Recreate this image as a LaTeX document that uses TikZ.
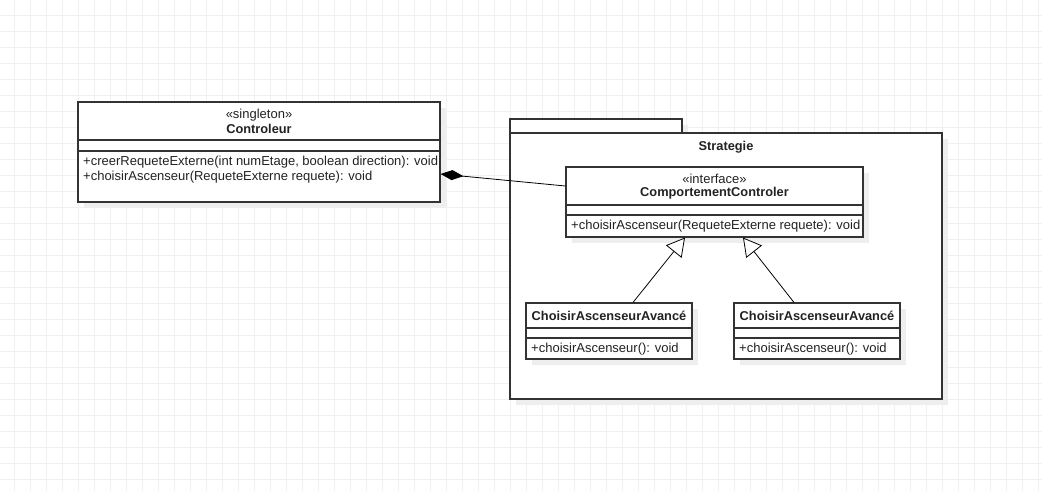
\documentclass[tikz,border=0pt]{standalone}
\usepackage{fontspec}
\setmainfont{Liberation Sans}
\usetikzlibrary{arrows.meta,shadows}
\definecolor{gridc}{HTML}{F0F0F0}
\definecolor{shadowc}{HTML}{EEEEEE}
\definecolor{linec}{HTML}{333333}
\definecolor{textc}{HTML}{222222}
\tikzset{
  gridline/.style={draw=gridc, line width=0.8pt},
  umlbox/.style={draw=linec, line width=1.1pt, fill=white, inner sep=0pt,
    drop shadow={shadow xshift=6pt, shadow yshift=-6pt, fill=shadowc, opacity=1}},
  sepline/.style={draw=linec, line width=1.1pt},
  txt/.style={inner sep=0pt, text=textc, font=\fontsize{13}{14}\selectfont},
  btxt/.style={txt, font=\fontsize{12.8}{14}\selectfont\bfseries},
  composition/.style={draw=black, line width=0.8pt, -{Diamond[length=23pt, width=10pt, fill=black]}},
  realizes/.style={draw=black, line width=0.8pt, -{Triangle[open, length=18pt, width=20pt, fill=white]}},
}
\begin{document}
\begin{tikzpicture}[x=1pt, y=-1pt]
  \useasboundingbox (0,0) rectangle (1042,491);
  \fill[white] (0,0) rectangle (1042,491);
  % background grid
  \foreach \gx in {14,30,...,1038} \draw[gridline] (\gx,0) -- (\gx,491);
  \foreach \gy in {15,31,...,487} \draw[gridline] (0,\gy) -- (1042,\gy);

  % package Strategie
  \node[umlbox, minimum width=172pt, minimum height=14pt] (pkgtab) at (596,126) {};
  \node[umlbox, minimum width=432pt, minimum height=266pt] (pkg) at (726,266) {};
  \node[btxt] (pkgname) at (726,147) {Strategie};

  % class Controleur
  \node[umlbox, minimum width=362pt, minimum height=100pt] (ctrl) at (259,152) {};
  \draw[sepline] (78,140) -- (440,140);
  \draw[sepline] (78,151) -- (440,151);
  \node[txt] (ctrlst) at (259,115) {«singleton»};
  \node[btxt] (ctrlname) at (259,129) {Controleur};
  \node[txt, anchor=west] (ctrlm1) at (83,162) {+creerRequeteExterne(int numEtage, boolean direction): void};
  \node[txt, anchor=west] (ctrlm2) at (83,177) {+choisirAscenseur(RequeteExterne requete): void};

  % interface ComportementControler
  \node[umlbox, minimum width=297pt, minimum height=70pt] (iface) at (714.5,202) {};
  \draw[sepline] (566,205) -- (863,205);
  \draw[sepline] (566,215) -- (863,215);
  \node[txt] (ifacest) at (714.5,179) {«interface»};
  \node[btxt] (ifacename) at (714.5,193) {ComportementControler};
  \node[txt, anchor=west] (ifacem1) at (571,226) {+choisirAscenseur(RequeteExterne requete): void};

  % implementing classes
  \node[umlbox, minimum width=166pt, minimum height=56pt] (implA) at (609,331) {};
  \draw[sepline] (526,328) -- (692,328);
  \draw[sepline] (526,338) -- (692,338);
  \node[btxt] (implAname) at (609,316) {ChoisirAscenseurAvancé};
  \node[txt, anchor=west] (implAm) at (531,349) {+choisirAscenseur(): void};

  \node[umlbox, minimum width=166pt, minimum height=56pt] (implB) at (817,331) {};
  \draw[sepline] (734,328) -- (900,328);
  \draw[sepline] (734,338) -- (900,338);
  \node[btxt] (implBname) at (817,316) {ChoisirAscenseurAvancé};
  \node[txt, anchor=west] (implBm) at (739,349) {+choisirAscenseur(): void};

  % relations
  \draw[composition] ([yshift=16pt]iface.west) -- ([yshift=-22pt]ctrl.east);
  \draw[realizes] ([xshift=24pt]implA.north) -- ([xshift=-29.5pt]iface.south);
  \draw[realizes] ([xshift=-23pt]implB.north) -- ([xshift=28.5pt]iface.south);
\end{tikzpicture}
\end{document}
